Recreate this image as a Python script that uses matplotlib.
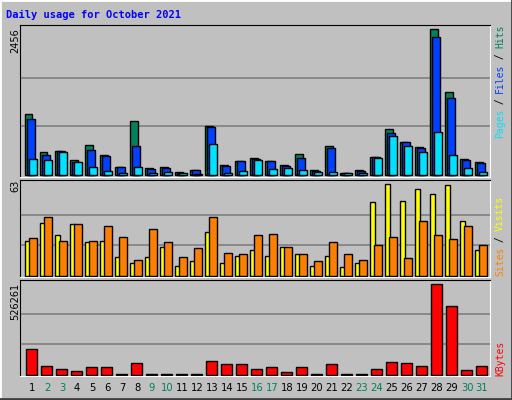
import matplotlib
matplotlib.use("Agg")
import matplotlib.pyplot as plt
import numpy as np

days = list(range(1, 32))
hits = [1025, 393, 410, 260, 510, 344, 144, 909, 127, 144, 61, 94, 825, 177, 244, 294,
        244, 177, 360, 94, 493, 44, 94, 310, 776, 560, 476, 2456, 1390, 277, 227]
files = [937, 344, 399, 227, 427, 321, 144, 493, 111, 127, 44, 94, 809, 160, 244, 277,
         244, 160, 294, 78, 460, 44, 78, 310, 709, 560, 460, 2321, 1291, 260, 210]
pages = [277, 260, 393, 227, 144, 78, 44, 144, 44, 61, 44, 28, 526, 44, 78, 260,
         111, 127, 94, 61, 61, 44, 44, 294, 659, 493, 393, 726, 343, 127, 61]
visits = [23.6, 36.5, 27.6, 35.8, 22.9, 23.6, 12.7, 8.6, 12.7, 19.5, 6.6, 10, 29.7, 8.6, 13.4, 17.4,
          13.4, 19.5, 14.7, 6.6, 13.4, 5.9, 8.6, 50.8, 63, 51.4, 59.6, 56.2, 62.3, 37.8, 17.4]
sites = [26, 40.6, 23.6, 35.8, 23.6, 33.8, 26.3, 10.6, 31.7, 22.9, 12.7, 18.8, 40.6, 15.4, 14.7, 27.6,
         28.3, 19.5, 14.7, 10, 22.9, 14.7, 10.6, 20.8, 26.3, 12, 37.8, 27.6, 24.9, 34.4, 20.8]
kbytes = [147000, 50000, 33000, 21000, 44000, 44000, 1000, 67000, 1000, 1000, 1000, 1000, 78000,
          61000, 61000, 33000, 44000, 15000, 44000, 1000, 61000, 1000, 1000, 33000, 73000, 67000,
          50000, 526261, 400000, 27000, 50000]
weekend = {2, 3, 9, 10, 16, 17, 23, 24, 30, 31}

BG = "#C0C0C0"
W, H = 512, 400
fig = plt.figure(figsize=(W / 100, H / 100), dpi=100, facecolor=BG)

def add_ax(top, bottom):
    ax = fig.add_axes([20 / W, (H - bottom) / H, 470 / W, (bottom - top) / H])
    ax.set_facecolor(BG)
    ax.set_xlim(-0.4, 30.93)
    for s in ["top", "left"]:
        ax.spines[s].set_color("black")
    for s in ["bottom", "right"]:
        ax.spines[s].set_color("white")
    ax.set_xticks([]); ax.set_yticks([])
    return ax

def grid(ax, m):
    for f in (1 / 3, 2 / 3):
        ax.axhline(m * f, color="#808080", lw=1.2, zorder=0)

s = np.arange(31)
ax1 = add_ax(25, 177)
m1 = max(hits)
ax1.set_ylim(-m1 * 0.012, m1 * 152 / 148)
grid(ax1, m1)
ax1.bar(s - 0.067, hits, width=0.5, align="edge", color="#00805C", edgecolor="black", lw=1, zorder=2)
ax1.bar(s + 0.067, files, width=0.5, align="edge", color="#0040FF", edgecolor="black", lw=1, zorder=3)
ax1.bar(s + 0.2, pages, width=0.5, align="edge", color="#00E0FF", edgecolor="black", lw=1, zorder=4)

ax2 = add_ax(180, 277)
m2 = max(visits)
ax2.set_ylim(-m2 * 0.015, m2 * 97 / 93)
grid(ax2, m2)
ax2.bar(s - 0.067, visits, width=0.36, align="edge", color="#FFFF00", edgecolor="black", lw=1, zorder=2)
ax2.bar(s + 0.2, sites, width=0.5, align="edge", color="#FF8000", edgecolor="black", lw=1, zorder=3)

ax3 = add_ax(280, 376)
m3 = max(kbytes)
ax3.set_ylim(-m3 * 0.015, m3 * 96 / 92)
grid(ax3, m3)
ax3.bar(s, kbytes, width=0.71, align="edge", color="#FF0000", edgecolor="black", lw=1, zorder=2)
ax3.set_xticks(s + 0.4)
ax3.set_xticklabels([str(d) for d in days], fontsize=7.2)
ax3.tick_params(axis="x", length=0, pad=5)
for lab, d in zip(ax3.get_xticklabels(), days):
    lab.set_color("#00805C" if d in weekend else "black")

fig.text(6 / W, 1 - 15 / H, "Daily usage for October 2021", color="#0000FF",
         fontsize=7.5, fontweight="bold", family="DejaVu Sans Mono", va="center")

for y, txt in [(28, str(m1)), (180, str(int(m2))), (283, str(m3))]:
    fig.text(15 / W, 1 - y / H, txt, rotation=90, fontsize=7, va="top", ha="center")

def vlabel(ybottom, parts):
    cw = 5.6
    y = ybottom
    for txt, col in parts:
        fig.text(500 / W, 1 - y / H, txt, rotation=90, fontsize=7, color=col,
                 family="DejaVu Sans Mono", va="bottom", ha="center")
        y -= cw * len(txt)

vlabel(138, [("Pages", "#00E0FF"), (" / ", "black"), ("Files", "#0040FF"), (" / ", "black"), ("Hits", "#00805C")])
vlabel(276, [("Sites", "#FF8000"), (" / ", "black"), ("Visits", "#FFFF00")])
vlabel(376, [("KBytes", "#FF0000")])

fig.add_artist(plt.Line2D([0, 0, 1], [0, 1, 1], transform=fig.transFigure, color="white", lw=2))
fig.add_artist(plt.Line2D([0, 1, 1], [0.002, 0.002, 1], transform=fig.transFigure, color="#404040", lw=2))

fig.savefig("out.png", dpi=100, facecolor=BG)
